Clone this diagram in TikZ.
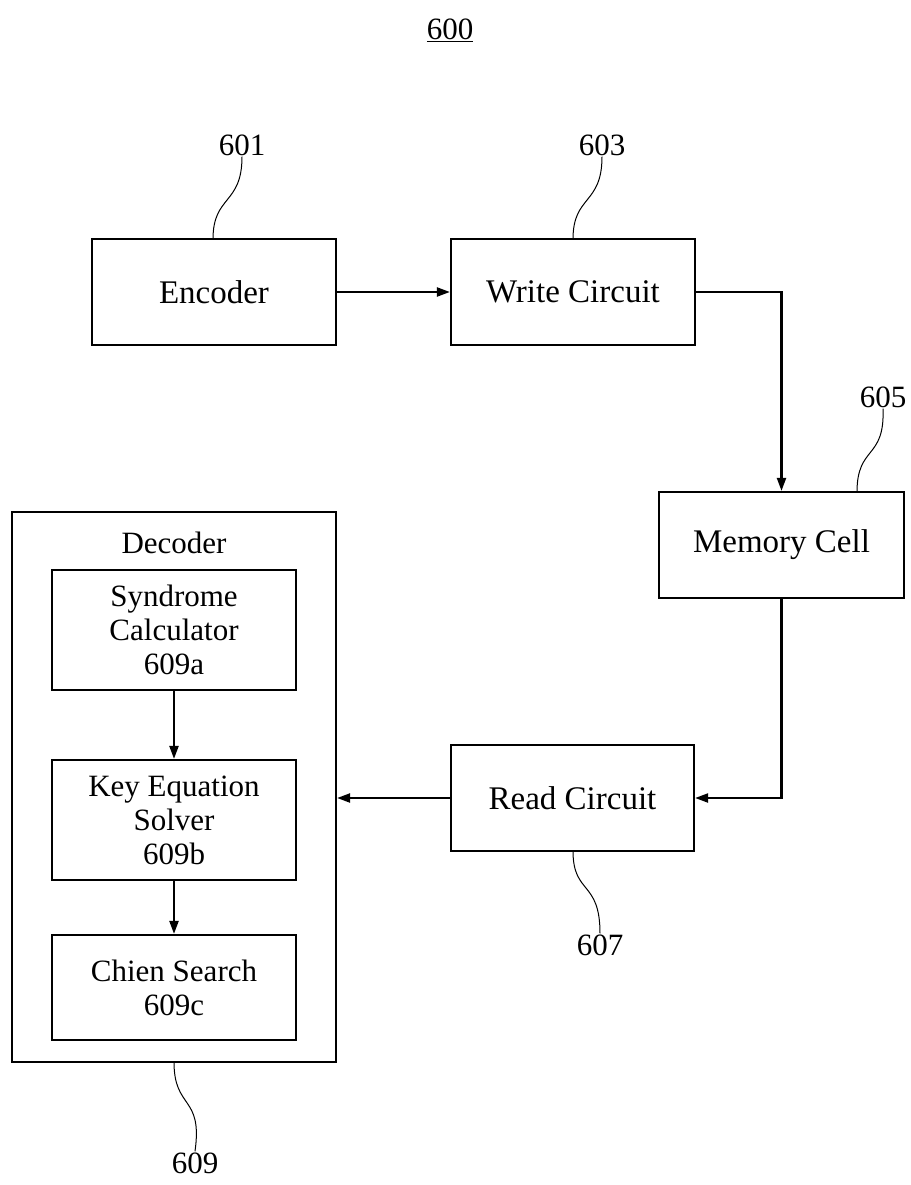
\documentclass[tikz,border=0pt]{standalone}
\usepackage{fontspec}
\setmainfont{Liberation Serif}
\usetikzlibrary{arrows.meta}
\tikzset{
  box/.style={draw, line width=2.2pt, align=center, inner sep=0pt,
    font=\fontsize{31}{34}\selectfont},
  bigtext/.style={font=\fontsize{33}{36}\selectfont},
  arr/.style={line width=2.2pt, -{Triangle[length=13pt,width=9pt]}},
  leader/.style={line width=1pt},
  lbl/.style={font=\fontsize{31}{34}\selectfont, inner sep=1pt},
}
\begin{document}
\begin{tikzpicture}[x=1pt,y=-1pt]
\useasboundingbox (0,0) rectangle (910,1185);
% title
\node[lbl] (n600) at (450,30) {\underline{600}};
% main boxes
\node[box, bigtext, minimum width=244pt, minimum height=106pt] (enc) at (214,292) {Encoder};
\node[box, bigtext, minimum width=244pt, minimum height=106pt] (wr) at (573,292) {Write Circuit};
\node[box, bigtext, minimum width=245pt, minimum height=106pt] (mem) at (781.5,545) {Memory Cell};
\node[box, bigtext, minimum width=243pt, minimum height=106pt] (rd) at (572.5,798) {Read Circuit};
% decoder
\node[box, minimum width=324pt, minimum height=550pt] (dec) at (174,787) {};
\node[lbl] (dect) at (174,543) {Decoder};
\node[box, minimum width=244pt, minimum height=120pt] (syn) at (174,630) {Syndrome\\Calculator\\609a};
\node[box, minimum width=244pt, minimum height=120pt] (key) at (174,820) {Key Equation\\Solver\\609b};
\node[box, minimum width=244pt, minimum height=105pt] (chn) at (174,987.5) {Chien Search\\609c};
% connectors
\draw[arr] (enc.east) -- (wr.west);
\draw[arr] (wr.east) -| (mem.north);
\draw[arr] (mem.south) |- (rd.east);
\draw[arr] (rd.west) -- (rd.west -| dec.east);
\draw[arr] (syn.south) -- (key.north);
\draw[arr] (key.south) -- (chn.north);
% reference labels
\node[lbl] (n601) at (242,145) {601};
\node[lbl] (n603) at (602,145) {603};
\node[lbl] (n605) at (883,397) {605};
\node[lbl] (n607) at (600,945) {607};
\node[lbl] (n609) at (195,1163) {609};
\coordinate (c601) at (213,239);
\coordinate (c603) at (573,239);
\coordinate (c605) at (857,492);
\coordinate (c607) at (573,851);
\coordinate (c609) at (174,1062);
\draw[leader] (n601.south) .. controls (242,205) and (213,195) .. (c601);
\draw[leader] (n603.south) .. controls (602,205) and (573,195) .. (c603);
\draw[leader] (n605.south) .. controls (885,460) and (857,445) .. (c605);
\draw[leader] (n607.north) .. controls (600,880) and (573,895) .. (c607);
\draw[leader] (n609.north) .. controls (203,1095) and (174,1110) .. (c609);
\end{tikzpicture}
\end{document}
